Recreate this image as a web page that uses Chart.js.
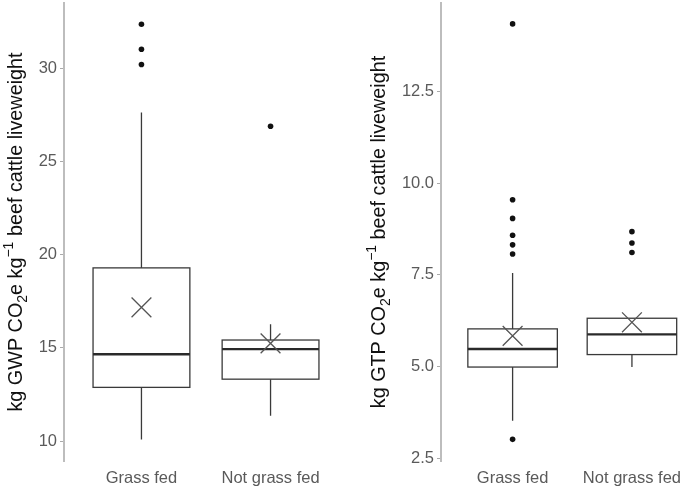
<!DOCTYPE html>
<html>
<head>
<meta charset="utf-8">
<script src="https://cdn.jsdelivr.net/npm/chart.js@4.4.0/dist/chart.umd.min.js"></script>
<style>
  html, body { margin: 0; padding: 0; background: #fff; }
  #wrap { position: relative; width: 689px; height: 488px; overflow: hidden; }
  canvas { position: absolute; top: 0; }
  #gwp { left: 0; }
  #gtp { left: 350px; }
</style>
</head>
<body>
<div id="wrap">
  <canvas id="gwp" width="350" height="488"></canvas>
  <canvas id="gtp" width="339" height="488"></canvas>
</div>
<script>
const groups = ['Grass fed', 'Not grass fed'];
const groupPos = [1, 2];

// GWP panel, box summaries
const gwpLow = [10.09, 11.36];
const gwpQ1 = [12.88, 13.32];
const gwpMedian = [14.66, 14.93];
const gwpQ3 = [19.29, 15.42];
const gwpHigh = [27.62, 16.26];
const gwpMean = [17.17, 15.24];
const gwpOutGrass = [30.2, 31.02, 32.36];
const gwpOutNot = [26.89];
const gwpTicks = [10, 15, 20, 25, 30];
const gwpTitle = [['kg GWP CO', ''], ['2', 'sub'], ['e kg', ''], ['\u22121', 'sup'], [' beef cattle liveweight', '']];

// GTP panel
const gtpLow = [3.53, 4.99];
const gtpQ1 = [4.99, 5.33];
const gtpMedian = [5.48, 5.88];
const gtpQ3 = [6.03, 6.32];
const gtpHigh = [7.55, 6.32];
const gtpMean = [5.84, 6.21];
const gtpOutGrass = [3.02, 8.07, 8.32, 8.58, 9.04, 9.55, 14.34];
const gtpOutNot = [8.11, 8.37, 8.68];
const gtpTicks = [2.5, 5, 7.5, 10, 12.5];
const gtpTitle = [['kg GTP CO', ''], ['2', 'sub'], ['e kg', ''], ['\u22121', 'sup'], [' beef cattle liveweight', '']];

const FONT = '"Liberation Sans", Arial, sans-serif';

// box + whiskers + median, drawn under the points
const boxPlugin = {
    id: 'boxes',
    beforeDatasetsDraw(chart, args, opts) {
        const xs = chart.scales.x, ys = chart.scales.y, ctx = chart.ctx;
        ctx.save();
        ctx.strokeStyle = '#3a3a3a';
        for (let i = 0; i < groupPos.length; i++) {
            const cx = xs.getPixelForValue(groupPos[i]);
            const x0 = xs.getPixelForValue(groupPos[i] - opts.half);
            const x1 = xs.getPixelForValue(groupPos[i] + opts.half);
            const yLow = ys.getPixelForValue(opts.low[i]);
            const yQ1 = ys.getPixelForValue(opts.q1[i]);
            const yMed = ys.getPixelForValue(opts.median[i]);
            const yQ3 = ys.getPixelForValue(opts.q3[i]);
            const yHigh = ys.getPixelForValue(opts.high[i]);
            ctx.lineWidth = 1.3;
            ctx.beginPath();
            ctx.moveTo(cx, yQ3); ctx.lineTo(cx, yHigh);
            ctx.moveTo(cx, yQ1); ctx.lineTo(cx, yLow);
            ctx.stroke();
            ctx.fillStyle = '#fff';
            ctx.fillRect(x0, yQ3, x1 - x0, yQ1 - yQ3);
            ctx.strokeRect(x0, yQ3, x1 - x0, yQ1 - yQ3);
            ctx.lineWidth = 2.4;
            ctx.strokeStyle = '#2a2a2a';
            ctx.beginPath();
            ctx.moveTo(x0, yMed); ctx.lineTo(x1, yMed);
            ctx.stroke();
            ctx.strokeStyle = '#3a3a3a';
        }
        ctx.restore();
    }
};

// rotated y title with sub/superscript
const titlePlugin = {
    id: 'yTitle',
    afterDraw(chart, args, opts) {
        const ctx = chart.ctx, a = chart.chartArea;
        const big = opts.size + 'px ' + FONT;
        const small = Math.round(opts.size * 0.72) + 'px ' + FONT;
        let total = 0;
        const widths = opts.parts.map(p => {
            ctx.font = p[1] ? small : big;
            const w = ctx.measureText(p[0]).width;
            total += w;
            return w;
        });
        ctx.save();
        ctx.translate(opts.x, (a.top + a.bottom) / 2);
        ctx.rotate(-Math.PI / 2);
        ctx.fillStyle = '#111';
        ctx.textBaseline = 'middle';
        let px = -total / 2;
        opts.parts.forEach((p, i) => {
            ctx.font = p[1] ? small : big;
            let dy = 0;
            if (p[1] == 'sub') dy = opts.size * 0.3;
            if (p[1] == 'sup') dy = -opts.size * 0.42;
            ctx.fillText(p[0], px, dy);
            px += widths[i];
        });
        ctx.restore();
    }
};

function points(vals, pos) {
    return vals.map(v => ({ x: pos, y: v }));
}

function makeChart(id, s) {
    const tickFont = { family: FONT, size: 16.5 };
    return new Chart(document.getElementById(id), {
        type: 'scatter',
        data: {
            datasets: [{
                data: points(s.outGrass, groupPos[0]).concat(points(s.outNot, groupPos[1])),
                pointRadius: 2.8,
                backgroundColor: '#111',
                borderWidth: 0
            }, {
                data: s.mean.map((v, i) => ({ x: groupPos[i], y: v })),
                pointStyle: 'crossRot',
                pointRadius: 14,
                borderColor: '#555',
                borderWidth: 1.3,
                backgroundColor: 'transparent'
            }]
        },
        options: {
            responsive: false,
            animation: false,
            layout: { autoPadding: false, padding: { top: 3, right: s.padRight, left: 0, bottom: 0 } },
            plugins: {
                legend: { display: false },
                tooltip: { enabled: false },
                boxes: { low: s.low, q1: s.q1, median: s.median, q3: s.q3, high: s.high, half: 0.375 },
                yTitle: { parts: s.title, size: 19.8, x: s.titleX }
            },
            scales: {
                x: {
                    type: 'linear',
                    min: 0.4,
                    max: s.xMax,
                    grid: { display: false, drawTicks: false },
                    border: { display: false },
                    afterBuildTicks: sc => { sc.ticks = groupPos.map(v => ({ value: v })); },
                    afterFit: sc => { sc.height = 27; },
                    ticks: {
                        callback: v => groups[groupPos.indexOf(v)],
                        font: tickFont,
                        color: '#5a5a5a',
                        padding: 8,
                        maxRotation: 0,
                        autoSkip: false
                    }
                },
                y: {
                    min: s.yMin,
                    max: s.yMax,
                    afterBuildTicks: sc => { sc.ticks = s.ticks.map(v => ({ value: v })); },
                    afterFit: sc => { sc.width = s.axisWidth; sc.paddingTop = 0; sc.paddingBottom = 0; },
                    grid: { drawOnChartArea: false, drawTicks: true, tickLength: 4, color: '#aaa', lineWidth: 1 },
                    border: { display: true, color: '#bdbdbd', width: 2 },
                    ticks: { callback: s.fmt, font: tickFont, color: '#5a5a5a', padding: 3 }
                }
            }
        },
        plugins: [boxPlugin, titlePlugin]
    });
}

makeChart('gwp', {
    low: gwpLow, q1: gwpQ1, median: gwpMedian, q3: gwpQ3, high: gwpHigh, mean: gwpMean,
    outGrass: gwpOutGrass, outNot: gwpOutNot, ticks: gwpTicks, title: gwpTitle,
    yMin: 8.93, yMax: 33.5, xMax: 2.6, padRight: 2, axisWidth: 64, titleX: 17,
    fmt: v => String(v)
});

makeChart('gtp', {
    low: gtpLow, q1: gtpQ1, median: gtpMedian, q3: gtpQ3, high: gtpHigh, mean: gtpMean,
    outGrass: gtpOutGrass, outNot: gtpOutNot, ticks: gtpTicks, title: gtpTitle,
    yMin: 2.43, yMax: 14.91, xMax: 2.424, padRight: 0, axisWidth: 91, titleX: 30,
    fmt: v => v.toFixed(1)
});
</script>
</body>
</html>
